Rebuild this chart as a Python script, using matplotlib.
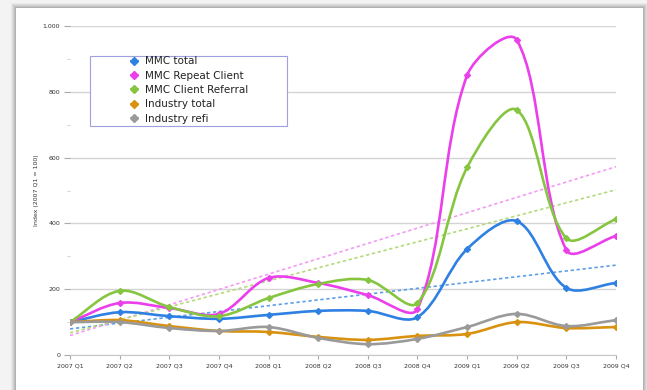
import numpy as np
import matplotlib.pyplot as plt
from matplotlib.path import Path
from matplotlib.patches import PathPatch, Rectangle
from matplotlib.lines import Line2D

# quarters on the x axis
quarters = ['2007 Q1', '2007 Q2', '2007 Q3', '2007 Q4', '2008 Q1', '2008 Q2',
            '2008 Q3', '2008 Q4', '2009 Q1', '2009 Q2', '2009 Q3', '2009 Q4']

# index values (2007 Q1 = 100)
mmc_total = [100, 130, 118, 110, 122, 134, 134, 115, 322, 407, 204, 219]
mmc_repeat = [100, 158, 143, 125, 234, 219, 182, 140, 850, 958, 319, 362]
mmc_referral = [100, 195, 146, 118, 173, 216, 228, 158, 570, 745, 355, 413]
industry_total = [100, 106, 88, 73, 70, 55, 46, 58, 64, 100, 82, 85]
industry_refi = [100, 100, 82, 73, 85, 52, 33, 49, 85, 125, 88, 106]

series = [
    ('MMC total', mmc_total, '#2f80e3', '#5f9fe8'),
    ('MMC Repeat Client', mmc_repeat, '#ea3fea', '#f39cf3'),
    ('MMC Client Referral', mmc_referral, '#86c540', '#b4da7c'),
    ('Industry total', industry_total, '#d8920f', None),
    ('Industry refi', industry_refi, '#9a9a9a', None),
]

# approx pixels per data unit, used so the smoothing behaves like on screen
SX, SY = 49.6, 0.329


def smooth_path(x, y):
    # smoothed line: bezier segments, tangents weighted by segment length
    pts = np.column_stack([np.asarray(x, float) * SX, np.asarray(y, float) * SY])
    n = len(pts)
    seg = np.hypot(*np.diff(pts, axis=0).T)
    out_c = []
    in_c = []
    for i in range(n):
        p0 = pts[max(i - 1, 0)]
        p2 = pts[min(i + 1, n - 1)]
        d = p2 - p0
        lin = seg[i - 1] if i > 0 else 0.0
        lout = seg[i] if i < n - 1 else 0.0
        tot = lin + lout
        out_c.append(pts[i] + d / 3.0 * lout / tot)
        in_c.append(pts[i] - d / 3.0 * lin / tot)
    verts = [pts[0]]
    codes = [Path.MOVETO]
    for i in range(n - 1):
        verts += [out_c[i], in_c[i + 1], pts[i + 1]]
        codes += [Path.CURVE4] * 3
    verts = np.array(verts) / [SX, SY]
    return Path(verts, codes)


fig = plt.figure(figsize=(6.47, 3.90), dpi=100)
fig.patch.set_facecolor('#f3f3f3')

# card with a soft shadow
for k, a in enumerate([0.04, 0.05, 0.06, 0.07, 0.08]):
    off = (5 - k) / 647
    fig.add_artist(Rectangle((16 / 647 - off, 0), 627 / 647 + 2 * off, 382 / 390 + off * 1.6,
                             transform=fig.transFigure, facecolor='black', alpha=a,
                             edgecolor='none', zorder=0))
fig.add_artist(Rectangle((16 / 647, 0), 627 / 647, 382 / 390, transform=fig.transFigure,
                         facecolor='white', edgecolor='none', zorder=0))

ax = fig.add_axes([70 / 647, 35 / 390, 546 / 647, 329 / 390])
ax.set_facecolor('none')
x = np.arange(len(quarters))

# trendlines
for name, vals, col, tcol in series:
    if tcol is None:
        continue
    k, b = np.polyfit(x, vals, 1)
    ax.plot(x, k * x + b, color=tcol, lw=1.2, ls=(0, (2, 1.6)), zorder=2)

for name, vals, col, tcol in series:
    ax.add_patch(PathPatch(smooth_path(x, vals), fill=False, edgecolor=col, lw=1.9,
                           zorder=3, capstyle='round', joinstyle='round'))
    ax.plot(x, vals, ls='none', marker='D', ms=3, color=col, zorder=4)

ax.set_xlim(0, 11)
ax.set_ylim(0, 1000)
ax.set_xticks(x)
ax.set_xticklabels(quarters, fontsize=4.5, color='#333333')
ax.set_yticks(range(0, 1001, 200))
ax.set_yticklabels(['0', '200', '400', '600', '800', '1,000'], fontsize=4.5, color='#333333')
ax.set_yticks(range(100, 1000, 200), minor=True)
ax.tick_params(axis='y', which='major', length=4, color='#aaaaaa', pad=3)
ax.tick_params(axis='y', which='minor', length=2, color='#cccccc')
ax.tick_params(axis='x', length=3, color='#aaaaaa', pad=3)
ax.grid(axis='y', which='major', color='#d4d4d4', lw=1.0)
ax.set_axisbelow(True)
for s in ['left', 'right', 'top']:
    ax.spines[s].set_visible(False)
ax.spines['bottom'].set_color('#c8c8c8')
ax.set_ylabel('Index (2007 Q1 = 100)', fontsize=4.5, color='#333333', labelpad=3)

# legend with its own frame
ax.add_patch(Rectangle((0.037, 0.696), 0.361, 0.213, transform=ax.transAxes,
                       facecolor='white', edgecolor='#a0a0e0', lw=0.8, zorder=5))
handles = [Line2D([], [], color=c, marker='D', ms=4.5, lw=1.2) for _, _, c, _ in series]
leg = ax.legend(handles, [s[0] for s in series], loc='upper left',
                bbox_to_anchor=(0.098, 0.93), frameon=False, fontsize=7.5,
                handlelength=0.7, handletextpad=0.7, labelspacing=0.42,
                borderpad=0.2, labelcolor='#222222')
leg.set_zorder(6)

fig.savefig('out.png', dpi=100, facecolor=fig.get_facecolor())
